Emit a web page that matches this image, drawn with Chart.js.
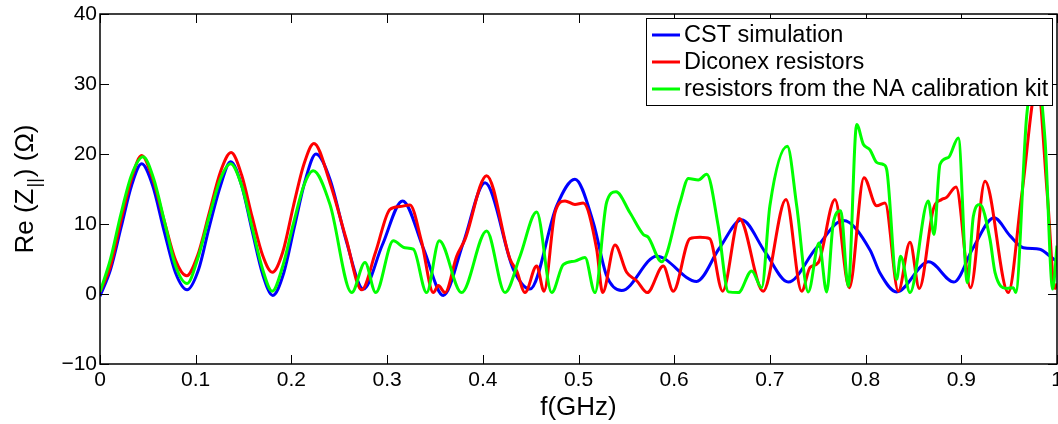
<!DOCTYPE html>
<html>
<head>
<meta charset="utf-8">
<script src="https://cdn.jsdelivr.net/npm/chart.js@4"></script>
<style>
  html, body { margin: 0; padding: 0; background: #fff; }
  #wrap { width: 1058px; height: 424px; }
</style>
</head>
<body>
<div id="wrap"><canvas id="impChart" width="1058" height="424"></canvas></div>
<script>
// values (f in GHz, Re(Z) in Ohm)
const cstFreq = [0, 0.011, 0.022, 0.033, 0.0435, 0.055, 0.067, 0.079, 0.091, 0.103, 0.114, 0.126, 0.1365, 0.148, 0.159, 0.170, 0.1805, 0.192, 0.203, 0.214, 0.2257, 0.2403, 0.2575, 0.2751, 0.295, 0.3162, 0.338, 0.3587, 0.3796, 0.4023, 0.432, 0.4493, 0.4772, 0.4963, 0.5155, 0.5294, 0.5451, 0.5817, 0.6234, 0.647, 0.6705, 0.695, 0.7192, 0.748, 0.7767, 0.8046, 0.815, 0.8324, 0.8659, 0.8923, 0.912, 0.9342, 0.951, 0.9648, 0.982, 0.9927, 1.0];
const cstRe = [-0.3, 3.5, 9.5, 15.5, 18.6, 15.5, 9, 3, 0.6, 3.5, 9.5, 15.5, 18.9, 15.5, 9, 2.8, -0.2, 3, 9.5, 16, 20.0, 16.4, 7.5, 0.7, 7, 13.3, 6.5, -0.2, 7.3, 15.9, 3.5, 0.7, 12.6, 16.4, 10.2, 2.6, 0.5, 5.4, 1.8, 6.5, 10.6, 6, 1.7, 6.5, 10.5, 6.3, 3.0, 0.3, 4.6, 1.7, 6.5, 10.9, 8.3, 6.6, 6.4, 5.4, 4.6];

const diconexFreq = [0, 0.011, 0.022, 0.033, 0.0435, 0.055, 0.067, 0.079, 0.0905, 0.102, 0.114, 0.126, 0.137, 0.148, 0.159, 0.170, 0.18, 0.191, 0.202, 0.213, 0.2235, 0.2403, 0.257, 0.2734, 0.288, 0.303, 0.3135, 0.3239, 0.336, 0.3483, 0.3535, 0.3605, 0.3727, 0.3814, 0.404, 0.4284, 0.4354, 0.4441, 0.4563, 0.464, 0.4754, 0.4859, 0.4963, 0.505, 0.519, 0.5252, 0.5381, 0.5503, 0.5608, 0.5719, 0.5886, 0.599, 0.6165, 0.627, 0.637, 0.6506, 0.668, 0.693, 0.7168, 0.7332, 0.7419, 0.7506, 0.768, 0.783, 0.7983, 0.8115, 0.8203, 0.8342, 0.8464, 0.8561, 0.8707, 0.8794, 0.8846, 0.8945, 0.9097, 0.9248, 0.9491, 0.963, 0.9795, 0.99, 0.9979, 1.0];
const diconexRe = [0.3, 4, 10.5, 16.5, 19.8, 16.5, 10.5, 4.8, 2.6, 5.5, 11.5, 17.5, 20.2, 17, 11, 5.5, 3.1, 6, 12.5, 18.5, 21.5, 15.9, 8, 0.6, 6, 12.1, 12.5, 12.7, 7.5, 0.2, 1.2, 0.2, 5.4, 7.8, 16.9, 5.0, 3.3, 0.2, 4.0, 0.4, 11.6, 13.3, 12.8, 13.0, 6.4, 0.2, 7.0, 3.1, 1.9, 0.2, 4.0, 0.4, 7.9, 8.1, 7.9, 0.4, 10.8, 0.4, 13.5, 0.4, 3.8, 4.5, 13.5, 0.9, 16.6, 12.6, 13.0, 0.4, 7.4, 0.8, 12.1, 13.5, 13.8, 15.3, 0.9, 16.1, 0.2, 14, 30, 14, 0.8, 1.5];

const kitFreq = [0, 0.011, 0.022, 0.033, 0.045, 0.056, 0.068, 0.079, 0.091, 0.102, 0.114, 0.126, 0.1365, 0.148, 0.159, 0.170, 0.180, 0.191, 0.202, 0.213, 0.2228, 0.2403, 0.263, 0.2769, 0.2881, 0.3065, 0.3187, 0.3274, 0.3413, 0.3545, 0.3778, 0.404, 0.4232, 0.4389, 0.4563, 0.472, 0.4841, 0.4963, 0.5068, 0.5172, 0.5294, 0.5392, 0.5538, 0.5677, 0.5729, 0.5869, 0.6061, 0.6148, 0.6252, 0.634, 0.646, 0.6566, 0.667, 0.681, 0.6914, 0.700, 0.7182, 0.728, 0.7401, 0.7513, 0.7593, 0.7663, 0.774, 0.7819, 0.7907, 0.7976, 0.8046, 0.8115, 0.8185, 0.822, 0.8324, 0.8366, 0.8464, 0.8655, 0.8715, 0.8777, 0.8865, 0.8969, 0.9063, 0.9126, 0.9195, 0.930, 0.9352, 0.9474, 0.9544, 0.9568, 0.9683, 0.978, 0.9875, 0.9955, 1.0];
const kitRe = [0.3, 5, 11.5, 17, 19.6, 16.5, 10, 4, 1.5, 5, 11, 16.5, 18.6, 15.5, 9.5, 3.5, 0.4, 4, 10, 15.5, 17.6, 12.8, 0.2, 4.5, 0.2, 7.6, 6.6, 6.4, 0.2, 7.6, 0.2, 9.0, 0.2, 5.4, 11.7, 0.2, 4.2, 4.7, 5.2, 0.2, 13.1, 14.6, 11.6, 8.5, 8.1, 4.6, 13.1, 16.5, 16.3, 17.1, 9.7, 0.3, 0.2, 3.3, 0.9, 12.6, 21.1, 12.6, 0.3, 7.3, 0.3, 10.2, 11.9, 1.1, 24.2, 21.4, 20.6, 18.8, 18.5, 17.8, 2.1, 5.4, 0.2, 13.3, 8.5, 18.5, 19.5, 22.3, 1.6, 11.1, 12.8, 7.8, 3.1, 0.8, 0.9, 0.2, 25.4, 32, 22, 0.7, 6.9];

const seriesNames = ['CST simulation', 'Diconex resistors', 'resistors from the NA calibration kit'];
const seriesColors = ['#0000ff', '#ff0000', '#00ff00'];
const xTicks = [0, 0.1, 0.2, 0.3, 0.4, 0.5, 0.6, 0.7, 0.8, 0.9, 1];
const yTicks = [-10, 0, 10, 20, 30, 40];

const FONT = '"Liberation Sans", Arial, Helvetica, sans-serif';

function toPoints(fs, vs) {
    return fs.map((f, i) => ({ x: f, y: vs[i] }));
}

// box + inward ticks on all four sides, matlab style
const boxPlugin = {
    id: 'boxPlugin',
    afterDatasetsDraw(chart) {
        const { ctx, chartArea: a, scales } = chart;
        ctx.save();
        ctx.strokeStyle = '#000';
        ctx.lineWidth = 1;
        ctx.beginPath();
        xTicks.forEach(t => {
            const px = Math.round(scales.x.getPixelForValue(t)) + 0.5;
            ctx.moveTo(px, a.bottom); ctx.lineTo(px, a.bottom - 9);
            ctx.moveTo(px, a.top); ctx.lineTo(px, a.top + 9);
        });
        yTicks.forEach(t => {
            const py = Math.round(scales.y.getPixelForValue(t)) + 0.5;
            ctx.moveTo(a.left, py); ctx.lineTo(a.left + 9, py);
            ctx.moveTo(a.right, py); ctx.lineTo(a.right - 9, py);
        });
        ctx.stroke();
        ctx.lineWidth = 1.5;
        ctx.strokeRect(a.left, a.top, a.right - a.left, a.bottom - a.top);
        ctx.restore();
    }
};

// legend box in upper right corner
const legendPlugin = {
    id: 'legendPlugin',
    afterDraw(chart) {
        const ctx = chart.ctx;
        const x0 = 646, y0 = 18, w = 406, h = 87;
        ctx.save();
        ctx.fillStyle = '#fff';
        ctx.fillRect(x0, y0, w, h);
        ctx.strokeStyle = '#000';
        ctx.lineWidth = 1;
        ctx.strokeRect(x0 + 0.5, y0 + 0.5, w, h);
        ctx.font = '23.5px ' + FONT;
        ctx.textBaseline = 'middle';
        seriesNames.forEach((name, i) => {
            const yy = y0 + 17 + i * 27;
            ctx.strokeStyle = seriesColors[i];
            ctx.lineWidth = 3;
            ctx.beginPath();
            ctx.moveTo(652, yy); ctx.lineTo(680, yy);
            ctx.stroke();
            ctx.fillStyle = '#000';
            ctx.fillText(name, 684, yy + 1);
        });
        ctx.restore();
    }
};

// axis titles (y title has a subscript)
const titlePlugin = {
    id: 'titlePlugin',
    afterDraw(chart) {
        const { ctx, chartArea: a } = chart;
        ctx.save();
        ctx.fillStyle = '#000';
        ctx.font = '26px ' + FONT;
        ctx.textAlign = 'center';
        ctx.textBaseline = 'alphabetic';
        ctx.fillText('f(GHz)', (a.left + a.right) / 2, 415);

        const p1 = 'Re (Z', sub = '||', p2 = ') (Ω)';
        const subFont = '18px ' + FONT;
        ctx.textAlign = 'left';
        const w1 = ctx.measureText(p1).width;
        const w3 = ctx.measureText(p2).width;
        ctx.font = subFont;
        const w2 = ctx.measureText(sub).width + 2;
        const total = w1 + w2 + w3;
        ctx.translate(33, (a.top + a.bottom) / 2);
        ctx.rotate(-Math.PI / 2);
        let cx = -total / 2;
        ctx.font = '26px ' + FONT;
        ctx.fillText(p1, cx, 0);
        cx += w1;
        ctx.font = subFont;
        ctx.fillText(sub, cx + 1, 7);
        cx += w2;
        ctx.font = '26px ' + FONT;
        ctx.fillText(p2, cx, 0);
        ctx.restore();
    }
};

const ctx = document.getElementById('impChart').getContext('2d');

const impChart = new Chart(ctx, {
    type: 'line',
    data: {
        datasets: [
            {
                label: seriesNames[0],
                data: toPoints(cstFreq, cstRe),
                borderColor: seriesColors[0],
                order: 3
            },
            {
                label: seriesNames[1],
                data: toPoints(diconexFreq, diconexRe),
                borderColor: seriesColors[1],
                order: 2
            },
            {
                label: seriesNames[2],
                data: toPoints(kitFreq, kitRe),
                borderColor: seriesColors[2],
                order: 1
            }
        ]
    },
    options: {
        responsive: false,
        animation: false,
        devicePixelRatio: 1,
        elements: {
            point: { radius: 0 },
            line: { borderWidth: 3, cubicInterpolationMode: 'monotone', fill: false }
        },
        layout: { padding: { top: 14, right: 1, left: 0, bottom: 0 } },
        scales: {
            x: {
                type: 'linear',
                min: 0,
                max: 1,
                grid: { display: false, drawTicks: false, tickLength: 0 },
                border: { display: false },
                afterBuildTicks: s => { s.ticks = xTicks.map(v => ({ value: v })); },
                afterFit: s => { s.height = 60; s.paddingLeft = 0; s.paddingRight = 0; },
                ticks: {
                    color: '#000',
                    padding: 4,
                    maxRotation: 0,
                    autoSkip: false,
                    font: { family: FONT, size: 21 },
                    callback: v => String(+v.toFixed(1))
                }
            },
            y: {
                min: -10,
                max: 40,
                grid: { display: false, drawTicks: false, tickLength: 0 },
                border: { display: false },
                afterBuildTicks: s => { s.ticks = yTicks.map(v => ({ value: v })); },
                afterFit: s => { s.width = 100; s.paddingTop = 0; s.paddingBottom = 0; },
                ticks: {
                    color: '#000',
                    padding: 3,
                    font: { family: FONT, size: 21 },
                    callback: v => v < 0 ? '\u2212' + Math.abs(v) : String(v)
                }
            }
        },
        plugins: {
            legend: { display: false },
            tooltip: { enabled: false }
        }
    },
    plugins: [boxPlugin, legendPlugin, titlePlugin]
});
</script>
</body>
</html>
